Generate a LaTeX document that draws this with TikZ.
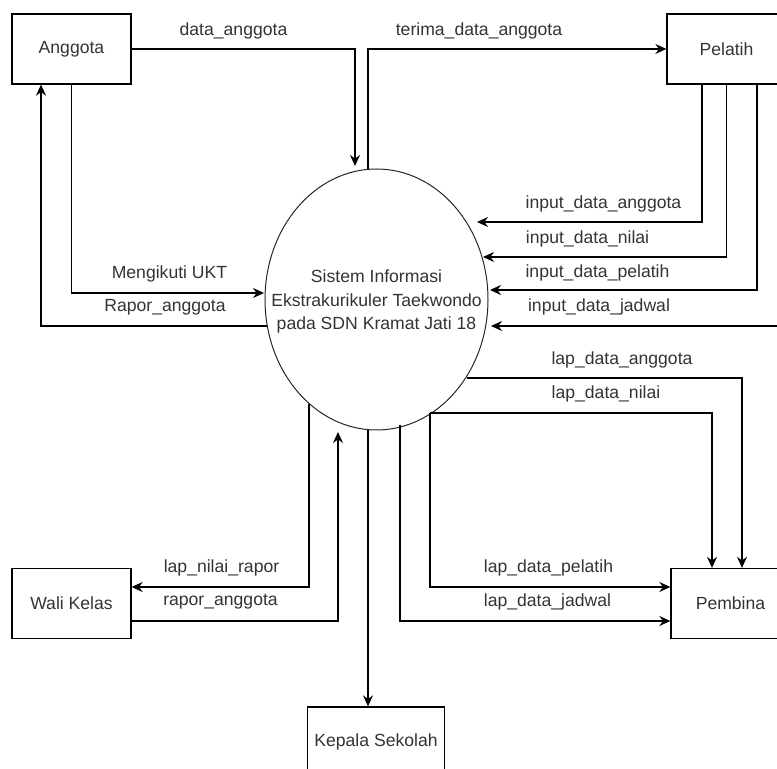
\documentclass[tikz,border=0pt]{standalone}
\usepackage{fontspec}
\setmainfont{Liberation Sans}
\usetikzlibrary{shapes.geometric,arrows.meta,calc}

\begin{document}
\begin{tikzpicture}[x=0.5pt,y=-0.5pt,font=\fontsize{8.8}{11.75}\selectfont,text=black!80]
        \useasboundingbox (0,0) rectangle (777,769);
        % external entities
        \begin{scope}[every node/.style={draw=black,line width=0.65pt,rectangle,minimum width=59.5pt,minimum height=35pt}]
          \node (anggota) at (71.5,49) {Anggota};
          \node (pelatih) at (726.5,49) {Pelatih};
          \node (walikelas) at (71.5,603.5) {Wali Kelas};
          \node (pembina) at (730.5,603.5) {Pembina};
          \node (kepsek) at (376,742) {Kepala Sekolah};
        \end{scope}
        % process
        \node[draw=black!85,line width=0.5pt,ellipse,inner sep=0pt,minimum width=111.5pt,minimum height=130.5pt] (sistem) at (376.5,299.5) {};
        \node[align=center] (sistemtext) at (376.5,301.5) {Sistem Informasi\\Ekstrakurikuler Taekwondo\\pada SDN Kramat Jati 18};
        % end points on the process
        \coordinate (inDA) at (355,166);
        \coordinate (outTDA) at (368,169.5);
        \coordinate (inUKT) at (264,293);
        \coordinate (outRA) at (267,326);
        \coordinate (inIDA) at (477,222);
        \coordinate (inIDN) at (483,257);
        \coordinate (inIDP) at (490,290);
        \coordinate (inIDJ) at (491,326);
        \coordinate (outLDA) at (467,378);
        \coordinate (outLDN) at (430,413);
        \coordinate (outLDJ) at (400,425);
        \coordinate (outLNR) at (309,404);
        \coordinate (inRPA) at (338,432);
        \coordinate (outKS) at (368,430);
        % flows
        \begin{scope}[line width=0.65pt,-{Stealth[length=5.5pt,width=5pt,inset=1.8pt]}]
          \draw (anggota.east) -| (inDA);
          \draw (outTDA) |- (pelatih.west);
          \draw (anggota.south) |- (inUKT);
          \draw (outRA) -| ($(anggota.south)+(-30.5,0)$);
          \draw ($(pelatih.south)+(-24.5,0)$) |- (inIDA);
          \draw (pelatih.south) |- (inIDN);
          \draw ($(pelatih.south)+(30.5,0)$) |- (inIDP);
          \draw ($(pelatih.south)+(58,0)$) |- (inIDJ);
          \draw (outLDA) -| ($(pembina.north)+(11.5,0)$);
          \draw (outLDN) -| ($(pembina.north)+(-18.5,0)$);
          \draw (outLDN) |- ($(pembina.west)+(0,-16.5)$);
          \draw (outLDJ) |- ($(pembina.west)+(0,17.5)$);
          \draw (outLNR) |- ($(walikelas.east)+(0,-16.5)$);
          \draw ($(walikelas.east)+(0,17.5)$) -| (inRPA);
          \draw (outKS) -- (outKS |- kepsek.north);
        \end{scope}
        % flow labels
        \node (lDA) at (233.5,31) {data\_anggota};
        \node (lTDA) at (479,31) {terima\_data\_anggota};
        \node (lUKT) at (169.5,274) {Mengikuti UKT};
        \node (lRA) at (165,307) {Rapor\_anggota};
        \node (lIDA) at (603.5,204) {input\_data\_anggota};
        \node (lIDN) at (587.5,239) {input\_data\_nilai};
        \node (lIDP) at (597.5,273) {input\_data\_pelatih};
        \node (lIDJ) at (599,307) {input\_data\_jadwal};
        \node (lLDA) at (622,360) {lap\_data\_anggota};
        \node (lLDN) at (606,394) {lap\_data\_nilai};
        \node (lLDP) at (548.5,568) {lap\_data\_pelatih};
        \node (lLDJ) at (547.5,602) {lap\_data\_jadwal};
        \node (lLNR) at (221.5,568) {lap\_nilai\_rapor};
        \node (lRPA) at (220.5,602) {rapor\_anggota};
      \end{tikzpicture}
\end{document}
